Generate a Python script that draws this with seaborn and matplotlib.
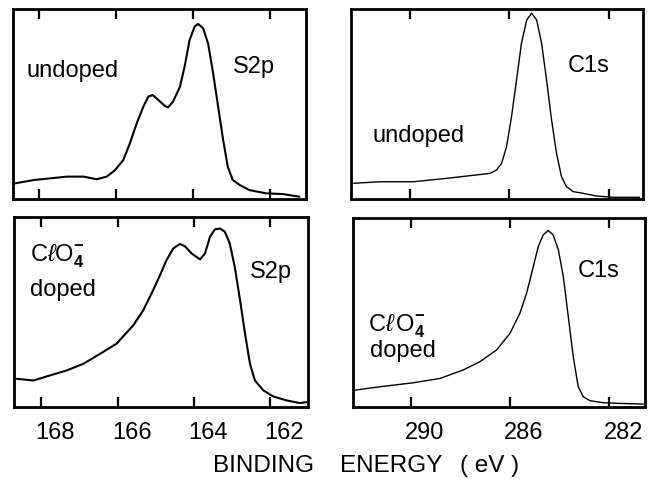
import matplotlib
matplotlib.use("Agg")
import matplotlib.pyplot as plt
import matplotlib.transforms as mtransforms
import seaborn as sns
import pandas as pd

# ---- data (binding energy in eV, intensity in arbitrary units 0..1) ----
s2p_undoped_E = [168.61, 168.13, 167.27, 166.84, 166.50, 166.24, 166.02, 165.81, 165.64,
                 165.46, 165.29, 165.16, 165.05, 164.90, 164.73, 164.65, 164.52, 164.34,
                 164.22, 164.09, 163.96, 163.87, 163.74, 163.61, 163.48, 163.35, 163.22,
                 163.10, 162.97, 162.79, 162.54, 162.11, 161.67, 161.24]
s2p_undoped_I = [0.083, 0.100, 0.118, 0.118, 0.104, 0.118, 0.153, 0.206, 0.293,
                 0.400, 0.487, 0.540, 0.548, 0.522, 0.490, 0.483, 0.513, 0.592,
                 0.698, 0.838, 0.909, 0.923, 0.900, 0.820, 0.663, 0.487, 0.311,
                 0.170, 0.100, 0.074, 0.047, 0.030, 0.026, 0.012]

s2p_doped_E = [168.65, 168.21, 167.77, 167.34, 166.90, 166.46, 166.03, 165.59, 165.33,
               165.07, 164.89, 164.72, 164.54, 164.37, 164.24, 164.06, 163.84, 163.71,
               163.58, 163.45, 163.32, 163.19, 163.06, 162.93, 162.79, 162.66, 162.53,
               162.40, 162.18, 161.92, 161.57, 161.22, 161.05]
s2p_doped_I = [0.146, 0.137, 0.164, 0.190, 0.225, 0.278, 0.331, 0.428, 0.507,
               0.613, 0.692, 0.771, 0.833, 0.856, 0.845, 0.806, 0.775, 0.806,
               0.894, 0.933, 0.938, 0.921, 0.859, 0.736, 0.560, 0.384, 0.225,
               0.137, 0.085, 0.053, 0.032, 0.018, 0.023]

c1s_undoped_E = [292.26, 291.19, 289.85, 288.52, 287.58, 286.78, 286.51, 286.31, 286.11,
                 285.91, 285.71, 285.51, 285.30, 285.10, 284.90, 284.70, 284.50, 284.30,
                 284.10, 283.90, 283.70, 283.43, 283.03, 282.50, 281.83, 280.76]
c1s_undoped_I = [0.083, 0.091, 0.091, 0.109, 0.123, 0.135, 0.153, 0.188, 0.276,
                 0.434, 0.627, 0.821, 0.944, 0.979, 0.944, 0.821, 0.627, 0.417,
                 0.241, 0.118, 0.065, 0.039, 0.030, 0.016, 0.009, 0.009]

c1s_doped_E = [292.24, 291.23, 289.89, 288.82, 287.88, 287.21, 286.54, 286.00, 285.60,
               285.33, 285.06, 284.86, 284.66, 284.46, 284.26, 284.05, 283.85, 283.65,
               283.45, 283.25, 283.05, 282.78, 282.24, 281.70, 280.63]
c1s_doped_I = [0.088, 0.106, 0.127, 0.150, 0.195, 0.239, 0.301, 0.389, 0.496,
               0.602, 0.743, 0.850, 0.912, 0.935, 0.912, 0.832, 0.690, 0.478,
               0.265, 0.106, 0.053, 0.032, 0.021, 0.018, 0.014]

s2p_ticks = [168, 166, 164, 162]
c1s_ticks = [290, 286, 282]
xlabel_parts = ["BINDING", "ENERGY", "( eV )"]

# ---- style ----
sns.set_theme(style="white")
plt.rcParams["font.family"] = ["Liberation Sans", "DejaVu Sans"]
plt.rcParams["mathtext.fontset"] = "custom"
plt.rcParams["mathtext.rm"] = "Liberation Sans"
plt.rcParams["mathtext.it"] = "Liberation Sans:italic"
plt.rcParams["mathtext.bf"] = "Liberation Sans:bold"

W, H = 651, 479
fig = plt.figure(figsize=(W / 100, H / 100), dpi=100)
fig.patch.set_facecolor("white")


def px_axes(x0, y0, x1, y1):
    return fig.add_axes([x0 / W, 1 - y1 / H, (x1 - x0) / W, (y1 - y0) / H])


panels = [
    (px_axes(12.7, 9.3, 306, 199), s2p_undoped_E, s2p_undoped_I, (168.68, 161.07), s2p_ticks, False, 1.5),
    (px_axes(351, 9.3, 643, 199), c1s_undoped_E, c1s_undoped_I, (292.37, 280.62), c1s_ticks, False, 1.0),
    (px_axes(14, 216.7, 308.3, 406.5), s2p_doped_E, s2p_doped_I, (168.72, 161.0), s2p_ticks, True, 1.5),
    (px_axes(353.3, 218.3, 645, 406.7), c1s_doped_E, c1s_doped_I, (292.31, 280.56), c1s_ticks, True, 1.0),
]

shift = mtransforms.ScaledTranslation(14 / 100, 0, fig.dpi_scale_trans)

for ax, E, I, xlim, ticks, show_labels, lw in panels:
    df = pd.DataFrame({"E": E, "I": I})
    sns.lineplot(data=df, x="E", y="I", ax=ax, color="black", linewidth=lw,
                 estimator=None, sort=False)
    ax.set_xlim(*xlim)
    ax.set_ylim(0, 1)
    ax.set_xticks(ticks)
    ax.set_yticks([])
    ax.set_xlabel("")
    ax.set_ylabel("")
    ax.set_facecolor("white")
    for sp in ax.spines.values():
        sp.set_visible(True)
        sp.set_color("black")
        sp.set_linewidth(2)
    ax.tick_params(axis="x", direction="in", top=True, bottom=True, length=7,
                   width=1.6, color="black", labelsize=17, pad=11,
                   labelbottom=show_labels, labelcolor="black")
    if show_labels:
        ax.set_xticklabels([str(t) for t in ticks])
        for lab in ax.get_xticklabels():
            lab.set_transform(lab.get_transform() + shift)


def ftext(x, y, s, **kw):
    fig.text(x / W, 1 - y / H, s, ha="left", va="baseline", fontsize=17,
             color="black", **kw)


clo4 = r"C$\ell$O$_{\mathbf{4}}^{\mathbf{-}}$"
clo4b = r"C$\ell\,$O$_{\mathbf{4}}^{\mathbf{-}}$"

ftext(27, 77, "undoped")
ftext(233, 73, "S2p")
ftext(568, 72, "C1s")
ftext(372, 142, "undoped")
ftext(30, 262, clo4)
ftext(30, 296, "doped")
ftext(250, 278, "S2p")
ftext(578, 277, "C1s")
ftext(368, 331, clo4b)
ftext(370, 357, "doped")

for xpos, part in zip([213, 340, 460], xlabel_parts):
    fig.text(xpos / W, 1 - 472 / H, part, ha="left", va="baseline", fontsize=17.5,
             color="black")

fig.savefig("out.png", dpi=100)
